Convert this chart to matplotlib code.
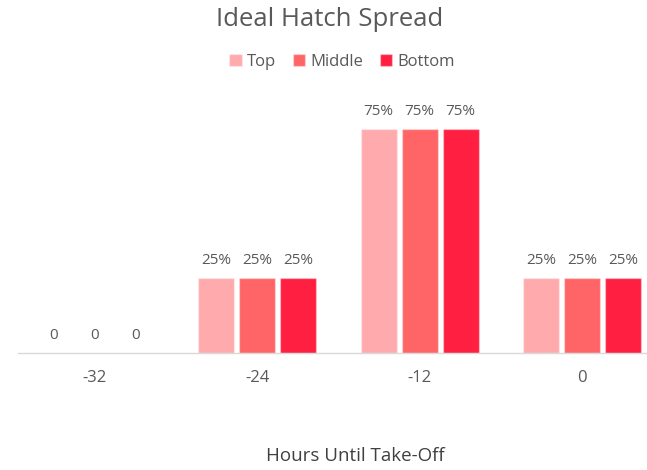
import numpy as np
import matplotlib
matplotlib.use('Agg')
import matplotlib.pyplot as plt

# data
hours = ['-32', '-24', '-12', '0']
series = ['Top', 'Middle', 'Bottom']
top = [0.0, 0.25, 0.75, 0.25]
middle = [0.0, 0.25, 0.75, 0.25]
bottom = [0.0, 0.25, 0.75, 0.25]
colors = ['#ffabae', '#ff6566', '#ff1f40']

grey = '#595959'
plt.rcParams['font.family'] = ['Open Sans', 'DejaVu Sans']

fig = plt.figure(figsize=(6.47, 4.70), dpi=100)
W, H = 647., 470.
ax = fig.add_axes([18/W, (H-353)/H, (647-18)/W, (353-80)/H])

x = np.arange(len(hours))
w = 0.222
off = 0.2526
for k, (vals, name) in enumerate(zip([top, middle, bottom], series)):
    xs = x + (k - 1)*off
    ax.bar(xs, vals, w, color=colors[k], label=name,
           edgecolor=(1, 1, 1, 0.35), linewidth=1)
    for xi, v in zip(xs, vals):
        lab = '0' if v == 0 else '%d%%' % round(v*100)
        ax.text(xi, v + 0.035, lab, ha='center', va='bottom', color=grey,
                fontsize=11, family=['Liberation Sans Narrow', 'Open Sans', 'DejaVu Sans'])

ax.set_xlim(-0.474, 3.40)
ax.set_ylim(0, 0.914)
ax.set_yticks([])
for s in ['top', 'right', 'left']:
    ax.spines[s].set_visible(False)
ax.spines['bottom'].set_color('#d9d9d9')
ax.spines['bottom'].set_linewidth(1)
ax.set_xticks(x)
ax.set_xticklabels(hours, fontsize=12, color=grey)
ax.tick_params(axis='x', length=0, pad=12)

fig.text(330/W, 1 - 19/H, 'Ideal Hatch Spread', ha='center', va='center',
         fontsize=18.5, color=grey)
fig.text(355/W, 1 - 456/H, 'Hours Until Take-Off', ha='center', va='center',
         fontsize=13.5, color='#404040')

leg = fig.legend(loc='center', bbox_to_anchor=(342/W, 1 - 62/H), ncol=3,
                 frameon=False, fontsize=12, handlelength=0.75, handleheight=0.75,
                 handletextpad=0.3, columnspacing=1.0, labelcolor=grey)

fig.savefig('out.png', dpi=100)
